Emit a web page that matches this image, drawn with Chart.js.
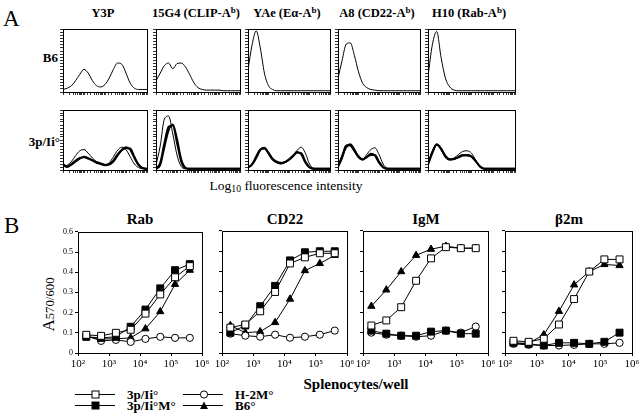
<!DOCTYPE html>
<html>
<head>
<meta charset="utf-8">
<script src="https://cdn.jsdelivr.net/npm/chart.js@4.4.1/dist/chart.umd.min.js"></script>
<style>
  body { margin: 0; width: 640px; height: 416px; position: relative; overflow: hidden; background: #fff;
         font-family: "Liberation Serif", "Times New Roman", Times, serif; color: #000; }
  canvas { position: absolute; }
  .t { position: absolute; white-space: nowrap; line-height: 1; }
  .c { text-align: center; width: 200px; }
  .b { font-weight: bold; }
  sup { font-size: 72%; vertical-align: 0.45em; line-height: 0; }
  sub { font-size: 72%; vertical-align: -0.25em; line-height: 0; }
  .leg { position: absolute; display: flex; align-items: center; font-size: 13px; font-weight: bold; height: 11px; }
  .leg svg { margin-right: 12px; }
</style>
</head>
<body>

<!-- part A text -->
<div class="t" style="left:3px;top:7px;font-size:23px">A</div>
<div class="t b c" style="left:3px;top:7px;font-size:12.5px">Y3P</div>
<div class="t b c" style="left:96px;top:7px;font-size:12.5px">15G4 (CLIP-A<sup>b</sup>)</div>
<div class="t b c" style="left:187px;top:7px;font-size:12.5px">YAe (Eα-A<sup>b</sup>)</div>
<div class="t b c" style="left:277px;top:7px;font-size:12.5px">A8 (CD22-A<sup>b</sup>)</div>
<div class="t b c" style="left:369px;top:7px;font-size:12.5px">H10 (Rab-A<sup>b</sup>)</div>
<div class="t b" style="right:582px;top:51px;font-size:13px">B6</div>
<div class="t b" style="right:580px;top:135px;font-size:13px">3p/Ii°</div>
<div class="t c" style="left:186px;top:179px;font-size:13.5px">Log<sub>10</sub> fluorescence intensity</div>

<!-- part B text -->
<div class="t" style="left:4px;top:214px;font-size:23px">B</div>
<div class="t b c" style="left:40px;top:212px;font-size:15px">Rab</div>
<div class="t b c" style="left:185px;top:212px;font-size:15px">CD22</div>
<div class="t b c" style="left:326px;top:212px;font-size:15px">IgM</div>
<div class="t b c" style="left:469px;top:212px;font-size:15px">β2m</div>
<div class="t c" style="left:-52px;top:296px;font-size:17px;transform:rotate(-90deg)">A<sub style="font-size:75%;vertical-align:-0.05em">570/600</sub></div>
<div class="t b c" style="left:256px;top:377px;font-size:15px">Splenocytes/well</div>

<div class="leg" style="left:75px;top:389px">
  <svg width="40" height="11"><line x1="0" y1="5.5" x2="40" y2="5.5" stroke="#000" stroke-width="1.2"/><rect x="17" y="2" width="7" height="7" fill="#fff" stroke="#000"/></svg>3p/Ii°</div>
<div class="leg" style="left:75px;top:400px">
  <svg width="40" height="11"><line x1="0" y1="5.5" x2="40" y2="5.5" stroke="#000" stroke-width="1.2"/><rect x="17" y="2" width="7" height="7" fill="#000" stroke="#000"/></svg>3p/Ii°M°</div>
<div class="leg" style="left:183px;top:389px">
  <svg width="40" height="11"><line x1="0" y1="5.5" x2="40" y2="5.5" stroke="#000" stroke-width="1.2"/><circle cx="21" cy="5.5" r="3.6" fill="#fff" stroke="#000"/></svg>H-2M°</div>
<div class="leg" style="left:183px;top:400px">
  <svg width="40" height="11"><line x1="0" y1="5.5" x2="40" y2="5.5" stroke="#000" stroke-width="1.2"/><polygon points="21,1.5 25,9 17,9" fill="#000"/></svg>B6°</div>

<script>
// ---- histogram data (part A): fraction of panel height at each log10 position ----
const decades = [0, 0.2, 0.4, 0.6, 0.8, 1, 1.2, 1.4, 1.6, 1.8, 2, 2.2, 2.4, 2.6, 2.8, 3, 3.2, 3.4, 3.6, 3.8, 4];

const y3pB6  = [0.04, 0.06, 0.10, 0.18, 0.28, 0.36, 0.30, 0.18, 0.10, 0.08, 0.12, 0.22, 0.36, 0.46, 0.44, 0.30, 0.14, 0.06, 0.04, 0.04, 0.04];
const clipB6 = [0.18, 0.30, 0.42, 0.46, 0.37, 0.45, 0.46, 0.40, 0.28, 0.15, 0.07, 0.04, 0.03, 0.03, 0.03, 0.03, 0.02, 0.02, 0.02, 0.02, 0.02];
const yaeB6  = [0.35, 0.75, 0.97, 0.70, 0.30, 0.10, 0.04, 0.02, 0.02, 0.02, 0.02, 0.02, 0.02, 0.02, 0.02, 0.02, 0.02, 0.02, 0.02, 0.02, 0.02];
const a8B6   = [0.22, 0.50, 0.76, 0.78, 0.58, 0.32, 0.14, 0.07, 0.04, 0.03, 0.02, 0.02, 0.02, 0.02, 0.02, 0.02, 0.02, 0.02, 0.02, 0.02, 0.02];
const h10B6  = [0.25, 0.75, 0.96, 0.55, 0.22, 0.08, 0.03, 0.02, 0.02, 0.02, 0.02, 0.02, 0.02, 0.02, 0.02, 0.02, 0.02, 0.02, 0.02, 0.02, 0.02];

const y3pKoThin   = [0.05, 0.08, 0.14, 0.24, 0.32, 0.34, 0.28, 0.20, 0.14, 0.10, 0.09, 0.12, 0.22, 0.33, 0.38, 0.34, 0.22, 0.10, 0.04, 0.02, 0.02];
const y3pKoThickA = [0.10, 0.06, 0.10, 0.16, 0.20, 0.21, 0.19, 0.16, 0.13, 0.11, 0.09, 0.10, 0.16, 0.26, 0.34, 0.38, 0.34, 0.20, 0.08, 0.03, 0.02];
const y3pKoThickB = [0.08, 0.05, 0.09, 0.14, 0.19, 0.22, 0.20, 0.16, 0.12, 0.10, 0.08, 0.09, 0.14, 0.24, 0.33, 0.36, 0.36, 0.22, 0.09, 0.03, 0.02];
const clipKoThin   = [0.08, 0.40, 0.85, 0.90, 0.60, 0.25, 0.06, 0.02, 0.02, 0.02, 0.02, 0.02, 0.02, 0.02, 0.02, 0.02, 0.02, 0.02, 0.02, 0.02, 0.02];
const clipKoThickA = [0.02, 0.12, 0.45, 0.72, 0.74, 0.45, 0.14, 0.03, 0.02, 0.02, 0.02, 0.02, 0.02, 0.02, 0.02, 0.02, 0.02, 0.02, 0.02, 0.02, 0.02];
const clipKoThickB = [0.02, 0.08, 0.38, 0.66, 0.76, 0.52, 0.18, 0.04, 0.02, 0.02, 0.02, 0.02, 0.02, 0.02, 0.02, 0.02, 0.02, 0.02, 0.02, 0.02, 0.02];
const yaeKoThin   = [0.04, 0.10, 0.24, 0.35, 0.35, 0.26, 0.16, 0.12, 0.10, 0.12, 0.16, 0.24, 0.33, 0.38, 0.28, 0.10, 0.03, 0.02, 0.02, 0.02, 0.02];
const yaeKoThickA = [0.04, 0.10, 0.22, 0.34, 0.37, 0.28, 0.18, 0.13, 0.11, 0.13, 0.18, 0.24, 0.30, 0.26, 0.12, 0.04, 0.02, 0.02, 0.02, 0.02, 0.02];
const yaeKoThickB = [0.04, 0.09, 0.20, 0.33, 0.36, 0.29, 0.19, 0.14, 0.12, 0.13, 0.17, 0.23, 0.29, 0.28, 0.14, 0.05, 0.02, 0.02, 0.02, 0.02, 0.02];
const a8KoThin   = [0.06, 0.26, 0.42, 0.40, 0.30, 0.20, 0.18, 0.26, 0.34, 0.37, 0.26, 0.10, 0.03, 0.02, 0.02, 0.02, 0.02, 0.02, 0.02, 0.02, 0.02];
const a8KoThickA = [0.06, 0.22, 0.38, 0.43, 0.34, 0.22, 0.17, 0.22, 0.27, 0.24, 0.12, 0.04, 0.02, 0.02, 0.02, 0.02, 0.02, 0.02, 0.02, 0.02, 0.02];
const a8KoThickB = [0.05, 0.20, 0.40, 0.41, 0.32, 0.23, 0.18, 0.21, 0.25, 0.25, 0.14, 0.05, 0.02, 0.02, 0.02, 0.02, 0.02, 0.02, 0.02, 0.02, 0.02];
const h10KoThin   = [0.10, 0.32, 0.43, 0.33, 0.22, 0.18, 0.20, 0.26, 0.31, 0.32, 0.28, 0.16, 0.05, 0.02, 0.02, 0.02, 0.02, 0.02, 0.02, 0.02, 0.02];
const h10KoThickA = [0.10, 0.30, 0.42, 0.35, 0.22, 0.17, 0.18, 0.22, 0.25, 0.24, 0.22, 0.14, 0.05, 0.02, 0.02, 0.02, 0.02, 0.02, 0.02, 0.02, 0.02];
const h10KoThickB = [0.09, 0.28, 0.43, 0.36, 0.24, 0.18, 0.19, 0.21, 0.24, 0.25, 0.23, 0.15, 0.06, 0.02, 0.02, 0.02, 0.02, 0.02, 0.02, 0.02, 0.02];

// ---- titration data (part B) ----
const cellsPerWell = [185, 556, 1667, 5000, 15000, 45000, 135000, 405000];
const xTickValues = [1e2, 1e3, 1e4, 1e5, 1e6];
const xTickLabels = ['10²', '10³', '10⁴', '10⁵', '10⁶'];
const yTickLabels = ['0', '0.1', '0.2', '0.3', '0.4', '0.5', '0.6'];
const seriesNames = ['3p/Ii°', '3p/Ii°M°', 'H-2M°', 'B6°'];

const rab3pIi  = [0.09, 0.085, 0.10, 0.115, 0.195, 0.29, 0.375, 0.43];
const rab3pIiM = [0.08, 0.075, 0.08, 0.13, 0.215, 0.32, 0.41, 0.44];
const rabH2M   = [0.085, 0.06, 0.065, 0.055, 0.07, 0.08, 0.075, 0.075];
const rabB6    = [0.08, 0.07, 0.07, 0.075, 0.12, 0.205, 0.34, 0.41];

const cd223pIi  = [0.125, 0.14, 0.205, 0.30, 0.44, 0.47, 0.49, 0.49];
const cd223pIiM = [0.10, 0.135, 0.23, 0.33, 0.455, 0.495, 0.50, 0.50];
const cd22H2M   = [0.095, 0.085, 0.08, 0.09, 0.075, 0.08, 0.09, 0.11];
const cd22B6    = [0.135, 0.10, 0.105, 0.15, 0.265, 0.405, 0.44, 0.48];

const igm3pIi  = [0.135, 0.16, 0.225, 0.355, 0.465, 0.52, 0.515, 0.515];
const igm3pIiM = [0.11, 0.095, 0.085, 0.085, 0.105, 0.11, 0.095, 0.095];
const igmH2M   = [0.10, 0.09, 0.085, 0.08, 0.085, 0.11, 0.10, 0.13];
const igmB6    = [0.23, 0.31, 0.40, 0.48, 0.51, 0.525, 0.515, 0.515];

const b2m3pIi  = [0.06, 0.055, 0.07, 0.14, 0.265, 0.40, 0.46, 0.46];
const b2m3pIiM = [0.05, 0.045, 0.037, 0.05, 0.05, 0.045, 0.055, 0.10];
const b2mH2M   = [0.045, 0.04, 0.037, 0.037, 0.04, 0.045, 0.045, 0.05];
const b2mB6    = [0.048, 0.048, 0.09, 0.205, 0.335, 0.40, 0.435, 0.43];

// box around each plot area
const framePlugin = {
  id: 'frame',
  afterDraw(chart) {
    const { ctx, chartArea: a } = chart;
    ctx.save();
    ctx.strokeStyle = '#000';
    ctx.lineWidth = 1;
    ctx.strokeRect(Math.round(a.left) + 0.5, Math.round(a.top) + 0.5, Math.round(a.right - a.left), Math.round(a.bottom - a.top));
    ctx.restore();
  }
};

function makeCanvas(left, top, w, h) {
  const c = document.createElement('canvas');
  c.width = w; c.height = h;
  c.style.left = left + 'px'; c.style.top = top + 'px';
  c.style.width = w + 'px'; c.style.height = h + 'px';
  document.body.appendChild(c);
  return c;
}

// ---- part A: histograms ----
const histCols = [{ x: 63, w: 84 }, { x: 156, w: 84 }, { x: 248, w: 82 }, { x: 338, w: 82 }, { x: 428, w: 87 }];
const histRows = [{ y: 29, h: 62 }, { y: 110, h: 59 }];
const histData = [
  [[y3pB6], [clipB6], [yaeB6], [a8B6], [h10B6]],
  [[y3pKoThin, y3pKoThickA, y3pKoThickB], [clipKoThin, clipKoThickA, clipKoThickB],
   [yaeKoThin, yaeKoThickA, yaeKoThickB], [a8KoThin, a8KoThickA, a8KoThickB], [h10KoThin, h10KoThickA, h10KoThickB]]
];

histRows.forEach((row, r) => {
  histCols.forEach((col, c) => {
    const tick = 3;
    const canvas = makeCanvas(col.x - tick, row.y - 1, col.w + tick + 2, row.h + tick + 2);
    new Chart(canvas, {
      type: 'line',
      data: {
        datasets: histData[r][c].map((vals, i) => ({
          data: decades.map((d, k) => ({ x: Math.pow(10, d), y: vals[k] })),
          borderColor: '#000',
          borderWidth: (r === 1 && i > 0) ? 1.9 : 1,
          pointRadius: 0,
          cubicInterpolationMode: 'monotone',
          fill: false
        }))
      },
      options: {
        responsive: false,
        animation: false,
        layout: { padding: { top: 1, right: 2, left: 0, bottom: 0 } },
        plugins: { legend: { display: false }, tooltip: { enabled: false } },
        scales: {
          x: {
            type: 'logarithmic', min: 1, max: 10000,
            ticks: { display: false },
            border: { display: false },
            grid: { drawOnChartArea: false, tickLength: tick, color: '#000', tickWidth: 0.8 },
            afterFit(s) { s.height = tick; }
          },
          y: {
            min: 0, max: 1,
            ticks: { display: false, stepSize: 0.05 },
            border: { display: false },
            grid: { drawOnChartArea: false, tickLength: tick, color: '#000', tickWidth: 0.8 },
            afterFit(s) { s.width = tick; }
          }
        }
      },
      plugins: [framePlugin]
    });
  });
});

// ---- part B: titration curves ----
const lineBoxes = [
  { x: 78, w: 124, sets: [rab3pIi, rab3pIiM, rabH2M, rabB6], yLabels: true },
  { x: 222, w: 125, sets: [cd223pIi, cd223pIiM, cd22H2M, cd22B6], yLabels: false },
  { x: 363, w: 125, sets: [igm3pIi, igm3pIiM, igmH2M, igmB6], yLabels: false },
  { x: 505, w: 127, sets: [b2m3pIi, b2m3pIiM, b2mH2M, b2mB6], yLabels: false }
];
const lineTop = 229, lineH = 124;
const markers = [
  { style: 'rect', fill: '#fff', r: 4.9 },
  { style: 'rect', fill: '#000', r: 4.9 },
  { style: 'circle', fill: '#fff', r: 3.6 },
  { style: 'triangle', fill: '#000', r: 4.2 }
];

lineBoxes.forEach(box => {
  const yW = box.yLabels ? 30 : 12;
  const padTop = 4, padRight = 10, xH = 20;
  const canvas = makeCanvas(box.x - yW, lineTop - padTop, yW + box.w + padRight, padTop + lineH + xH);
  new Chart(canvas, {
    type: 'line',
    data: {
      datasets: box.sets.map((vals, i) => ({
        label: seriesNames[i],
        data: cellsPerWell.map((x, k) => ({ x: x, y: vals[k] })),
        borderColor: '#000',
        borderWidth: 1,
        tension: 0,
        pointStyle: markers[i].style,
        pointRadius: markers[i].r,
        pointBackgroundColor: markers[i].fill,
        pointBorderColor: '#000',
        pointBorderWidth: 1,
        clip: 8
      }))
    },
    options: {
      responsive: false,
      animation: false,
      layout: { padding: { top: padTop, right: padRight, left: 0, bottom: 0 } },
      plugins: { legend: { display: false }, tooltip: { enabled: false } },
      scales: {
        x: {
          type: 'logarithmic', min: 100, max: 1e6,
          afterBuildTicks(s) { s.ticks = xTickValues.map(v => ({ value: v })); },
          ticks: {
            autoSkip: false, maxRotation: 0, padding: 2, color: '#000',
            font: { family: '"Liberation Serif", serif', size: 11 },
            callback: v => xTickLabels[xTickValues.indexOf(v)]
          },
          border: { display: false },
          grid: { drawOnChartArea: false, tickLength: 3, color: '#000' },
          afterFit(s) { s.height = xH; }
        },
        y: {
          min: 0, max: 0.6,
          ticks: {
            display: box.yLabels, stepSize: 0.1, padding: 2, color: '#000',
            font: { family: '"Liberation Serif", serif', size: 8 },
            callback: (v, idx) => yTickLabels[idx]
          },
          border: { display: false },
          grid: { drawOnChartArea: false, tickLength: 3, color: '#000' },
          afterFit(s) { s.width = yW; }
        }
      }
    },
    plugins: [framePlugin]
  });
});
</script>
</body>
</html>
